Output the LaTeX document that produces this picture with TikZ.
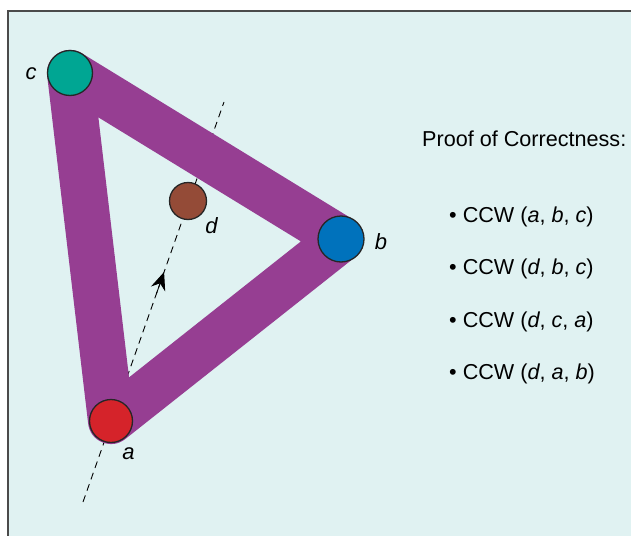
\documentclass[tikz,border=0pt]{standalone}
\usepackage{fontspec}
\setmainfont{Liberation Sans}
\usetikzlibrary{arrows.meta,calc}
\definecolor{panelcyan}{RGB}{224,242,242}
\definecolor{frameedge}{RGB}{75,75,75}
\definecolor{bandpurple}{RGB}{150,62,146}
\definecolor{ptred}{RGB}{213,35,42}
\definecolor{ptblue}{RGB}{0,114,188}
\definecolor{ptteal}{RGB}{0,166,147}
\definecolor{ptbrown}{RGB}{148,75,55}

\tikzset{
  pt/.style={circle, draw=black!85, line width=1.3pt, inner sep=0pt},
  ptlabel/.style={font=\fontsize{22}{26}\selectfont\itshape, anchor=base, inner sep=0pt},
  prooftext/.style={font=\fontsize{21.6}{26}\selectfont, anchor=base west, inner sep=0pt},
}

\begin{document}
\begin{tikzpicture}[x=1pt,y=-1pt]
  \useasboundingbox (0,0) rectangle (631,535);
  % Panel
  \draw[frameedge, line width=1.5pt, fill=panelcyan] (8,11) rectangle (660,560);
  % Point positions
  \coordinate (pa) at (111,421);
  \coordinate (pb) at (341,239);
  \coordinate (pc) at (70,73);
  \coordinate (pd) at (188,201);
  \coordinate (lo) at (83,502);
  \coordinate (hi) at (224,102);
  \coordinate (tipback) at ($(lo)!0.52!(hi)$);
  \coordinate (tip) at ($(lo)!0.575!(hi)$);
  % Dashed line through a and d
  \draw[black, line width=0.9pt, dash pattern=on 7pt off 5pt] (lo) -- (hi);
  \draw[black, line width=0.9pt, -{Stealth[length=18pt,width=15pt,inset=6pt]}] (tipback) -- (tip);
  % Triangle band
  \draw[bandpurple, line width=46pt, line join=round] (pa) -- (pb) -- (pc) -- cycle;
  % Points
  \node[pt, fill=ptred, minimum size=43pt] (a) at (pa) {};
  \node[pt, fill=ptblue, minimum size=46pt] (b) at (pb) {};
  \node[pt, fill=ptteal, minimum size=45pt] (c) at (pc) {};
  \node[pt, fill=ptbrown, minimum size=37pt] (d) at (pd) {};
  \node[ptlabel] (la) at (128.5,459) {a};
  \node[ptlabel] (lb) at (381,249) {b};
  \node[ptlabel] (lc) at (31,79) {c};
  \node[ptlabel] (ld) at (211.5,233) {d};
  % Proof text
  \node[prooftext] (title) at (422,146) {Proof of Correctness:};
  \node[prooftext] (s1) at (449,222) {\textbullet\ CCW (\textit{a}, \textit{b}, \textit{c})};
  \node[prooftext] (s2) at (449,274.5) {\textbullet\ CCW (\textit{d}, \textit{b}, \textit{c})};
  \node[prooftext] (s3) at (449,327) {\textbullet\ CCW (\textit{d}, \textit{c}, \textit{a})};
  \node[prooftext] (s4) at (449,379.5) {\textbullet\ CCW (\textit{d}, \textit{a}, \textit{b})};
\end{tikzpicture}
\end{document}
